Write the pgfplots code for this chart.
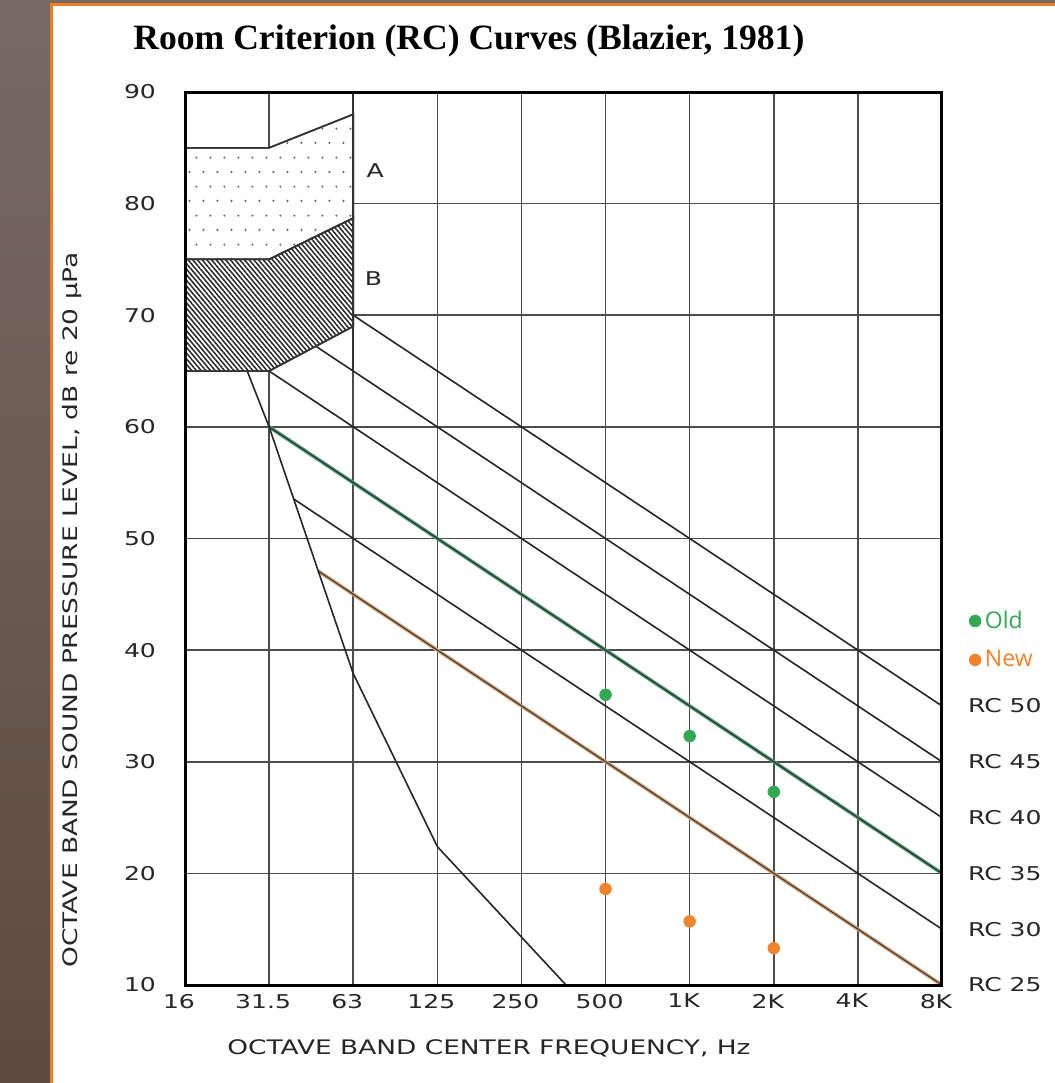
\documentclass[border=0pt]{standalone}
\usepackage{pgfplots}
\pgfplotsset{compat=1.18}
\usepackage{fontspec}
\usetikzlibrary{patterns.meta}
\setmainfont{Liberation Serif}
\newfontfamily\hand{DejaVu Sans}[FakeStretch=1.32]
\newfontfamily\osans{Open Sans}
\definecolor{oldgreen}{HTML}{33A852}
\definecolor{neworange}{HTML}{F0842C}
\definecolor{brtop}{HTML}{766A63}
\definecolor{brbot}{HTML}{5E4A40}
\definecolor{borange}{HTML}{F47C20}
\definecolor{gline}{HTML}{4E9E72}
\definecolor{oline}{HTML}{D9A070}

\tikzdeclarepattern{
  name=sparsedots,
  type=uncolored,
  bounding box={(0pt,0pt) and (7.2pt,14.6pt)},
  tile size={(7.2pt,14.6pt)},
  code={
    \fill (1.8pt,3.65pt) circle (0.6pt);
    \fill (5.4pt,10.95pt) circle (0.6pt);
  }
}

\tikzset{rclab/.style={anchor=west, xshift=9.5pt, font=\hand\fontsize{9.5}{11}\selectfont, text=black!85}}

\begin{document}
\begin{tikzpicture}
\useasboundingbox (0,0) rectangle (527.5pt,541.5pt);
\fill[white] (0,0) rectangle (527.5pt,541.5pt);
\shade[top color=brtop, bottom color=brbot] (0,0) rectangle (25pt,541.5pt);
\fill[brtop] (0,539.8pt) rectangle (527.5pt,541.5pt);
\fill[borange] (25pt,0) rectangle (26.3pt,539.8pt);
\fill[borange] (25pt,538.5pt) rectangle (527.5pt,539.8pt);

\node[anchor=base west, inner sep=0pt, font=\fontsize{17.8}{20}\selectfont\bfseries] at (66.5pt,516.5pt) {Room Criterion (RC) Curves (Blazier, 1981)};

\node[rotate=90, font=\hand\fontsize{10}{12}\selectfont, text=black!85] at (36pt,236.5pt) {OCTAVE BAND SOUND PRESSURE LEVEL, dB re 20 μPa};
\node[font=\hand\fontsize{10}{12}\selectfont, text=black!85] at (244.5pt,17.5pt) {OCTAVE BAND CENTER FREQUENCY, Hz};

\begin{axis}[
  at={(92.5pt,49pt)}, anchor=south west,
  scale only axis, width=378.5pt, height=446.5pt,
  xmin=0, xmax=9, ymin=10, ymax=90,
  xtick={0,...,9}, xticklabels={16,31.5,63,125,250,500,1K,2K,4K,8K},
  ytick={10,20,...,90}, yticklabels={10,20,30,40,50,60,70,80,90},
  major tick length=0pt,
  tick label style={font=\hand\fontsize{9.5}{11}\selectfont, text=black!85},
  xticklabel style={yshift=-1pt, xshift=-3pt},
  yticklabel style={xshift=-11pt},
  grid=major,
  major grid style={black!70, line width=0.8pt},
  axis line style={line width=1.5pt},
  clip=false,
  legend style={at={(1,0.424)}, anchor=north west, xshift=13.5pt, draw=none, fill=none,
    font=\osans\fontsize{11.5}{13}\selectfont, row sep=5.5pt, inner sep=0pt, cells={anchor=west}},
  legend image code/.code={\draw[mark repeat=2,mark phase=2,#1] plot coordinates {(0cm,0cm) (0.12cm,0cm) (0.52cm,0cm)};},
]
% RC curves
\addplot[forget plot, black!85, line width=0.8pt] coordinates {(2,70) (9,35)};
\addplot[forget plot, black!85, line width=0.8pt] coordinates {(1,70) (9,30)};
\addplot[forget plot, black!85, line width=0.8pt] coordinates {(1,65) (9,25)};
\addplot[forget plot, gline, line width=1.8pt] coordinates {(1,60) (9,20)};
\addplot[forget plot, black!80, line width=0.6pt] coordinates {(1,60) (9,20)};
\addplot[forget plot, black!85, line width=0.8pt] coordinates {(1.292,53.54) (9,15)};
\addplot[forget plot, oline, line width=1.8pt] coordinates {(1.585,47.08) (9,10)};
\addplot[forget plot, black!75, line width=0.6pt] coordinates {(1.585,47.08) (9,10)};
% lower boundary
\addplot[forget plot, black!85, line width=0.8pt] coordinates {(0.74,65) (1,60) (2,37.9) (3,22.4) (4.53,10)};
% regions A and B
\addplot[forget plot, draw=black!80, line width=0.8pt, fill=white, postaction={pattern=sparsedots, pattern color=black!60}]
  coordinates {(0,85) (1,85) (2,88) (2,78.7) (1,75) (0,75) (0,85)};
\addplot[forget plot, draw=black!80, line width=0.8pt, fill=white, postaction={pattern={Lines[angle=-50,distance=1.8pt,line width=0.75pt]}, pattern color=black!85}]
  coordinates {(0,75) (1,75) (2,78.7) (2,69) (1,65) (0,65) (0,75)};
\draw[black!80, line width=0.8pt] (axis cs:2,90) -- (axis cs:2,65);
\node[font=\hand\fontsize{9.5}{11}\selectfont, text=black!85] at (axis cs:2.26,83) {A};
\node[font=\hand\fontsize{9.5}{11}\selectfont, text=black!85] at (axis cs:2.24,73.3) {B};
% data
\addplot[only marks, mark=*, mark size=2.9pt, color=oldgreen] coordinates {(5,36.0) (6,32.3) (7,27.3)};
\addlegendentry{\textcolor{oldgreen}{Old}}
\addplot[only marks, mark=*, mark size=2.9pt, color=neworange] coordinates {(5,18.6) (6,15.7) (7,13.3)};
\addlegendentry{\textcolor{neworange}{New}}
% border
\draw[line width=1.5pt] (rel axis cs:0,0) rectangle (rel axis cs:1,1);
% RC labels
\node[rclab] at (axis cs:9,35) {RC 50};
\node[rclab] at (axis cs:9,30) {RC 45};
\node[rclab] at (axis cs:9,25) {RC 40};
\node[rclab] at (axis cs:9,20) {RC 35};
\node[rclab] at (axis cs:9,15) {RC 30};
\node[rclab] at (axis cs:9,10) {RC 25};
\end{axis}
\end{tikzpicture}
\end{document}
